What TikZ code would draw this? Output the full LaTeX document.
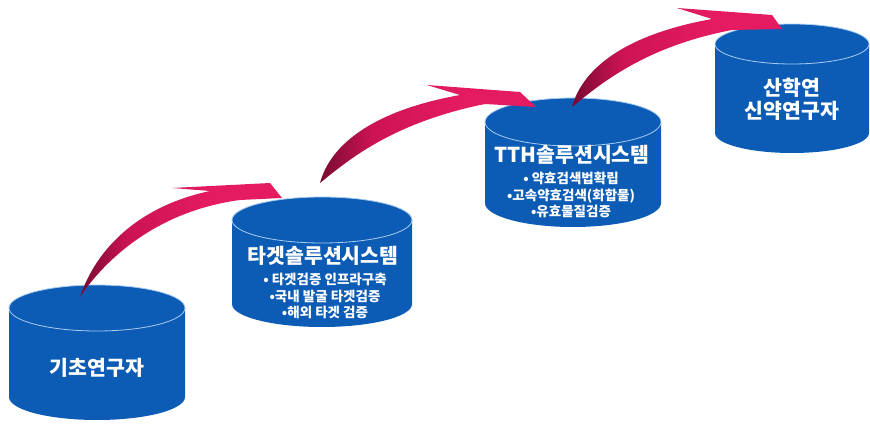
\documentclass[tikz,border=0pt]{standalone}
\usepackage{fontspec}
\setmainfont{Noto Sans CJK KR}
\definecolor{cylblue}{HTML}{0C5CB6}
\definecolor{cylrim}{HTML}{A9CBF2}
\definecolor{arrdark}{HTML}{780A30}
\definecolor{arrmid}{HTML}{CC1354}
\definecolor{arrlight}{HTML}{E51B62}
\pgfdeclarehorizontalshading{swoshade}{100bp}{color(0bp)=(arrdark); color(25bp)=(arrdark); color(37bp)=(arrmid); color(58bp)=(arrlight); color(100bp)=(arrlight)}
\tikzset{
  cylbody/.style={fill=cylblue},
  cyltop/.style={fill=cylblue, draw=cylrim, line width=0.8pt},
  swoosh/.style={shading=swoshade},
  title/.style={text=white, font=\bfseries\fontsize{20.5}{23}\selectfont, inner sep=0pt},
  sub/.style={text=white, font=\bfseries\fontsize{13.5}{16.5}\selectfont, align=center, inner sep=0pt},
}
\newcommand\mycyl[5]{%
  \fill[cylbody] (#1-#2,#3) -- (#1-#2,#4) arc[start angle=180,end angle=360,x radius=#2,y radius=#5] -- (#1+#2,#3) -- cycle;
  \path[cyltop] (#1,#3) ellipse[x radius=#2, y radius=#5];
}
\begin{document}
\begin{tikzpicture}[x=1pt,y=1pt]
\useasboundingbox (0,0) rectangle (870,423);
% cylinders
\mycyl{97}{88}{115}{26}{23}
\mycyl{322}{90}{203}{119}{23}
\mycyl{573}{88}{301}{220}{24}
\mycyl{792}{77}{379}{290}{20}
\coordinate (b1) at (80,126);
\coordinate (b2) at (320,240);
\coordinate (b3) at (572,316);
% arrows
\begin{scope}[shift={(b1)}]
\shade[swoosh] (0,0) .. controls (15,45) and (55,90) .. (130,106) -- (92,109) -- (190,114) -- (202,99) -- (160,97) .. controls (70,85) and (20,30) .. (0,0) -- cycle;
\end{scope}
\begin{scope}[shift={(b2)}]
\shade[swoosh] (0,0) .. controls (8,30) and (40,70) .. (140,88) -- (107,98) -- (200,91) -- (216,76) -- (165,79) .. controls (70,60) and (25,20) .. (0,0) -- cycle;
\end{scope}
\begin{scope}[shift={(b3)}]
\shade[swoosh] (0,0) .. controls (8,30) and (40,70) .. (140,88) -- (105,99) -- (200,92) -- (210,78) -- (160,77) .. controls (70,60) and (25,20) .. (0,0) -- cycle;
\end{scope}
% texts
\node[title] (t1) at (97,55) {기초연구자};
\node[title] (t2) at (323,167) {타겟솔루션시스템};
\node[sub] (s2) at (325,127) {• 타겟검증 인프라구축\\•국내 발굴 타겟검증\\•해외 타겟 검증};
\node[title] (t3) at (572,268) {TTH솔루션시스템};
\node[sub] (s3) at (571,228) {• 약효검색법확립\\•고속약효검색(화합물)\\•유효물질검증};
\node[title, align=center] (t4) at (792,324) {산학연\\신약연구자};
\end{tikzpicture}
\end{document}
